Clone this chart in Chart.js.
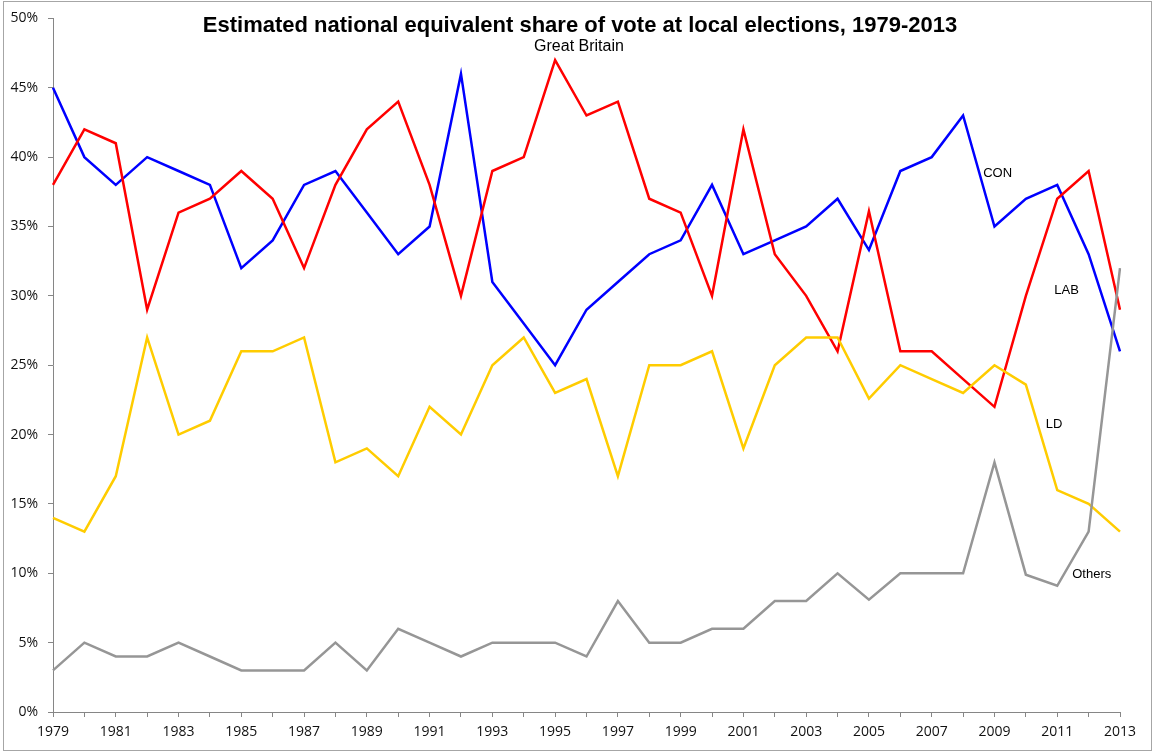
<!DOCTYPE html>
<html>
<head>
<meta charset="utf-8">
<title>Local elections vote share</title>
<script src="https://cdn.jsdelivr.net/npm/chart.js@4.4.1/dist/chart.umd.min.js"></script>
<style>
  html, body { margin:0; padding:0; background:#fff; }
  #wrap { width:1154px; height:754px; position:relative; }
</style>
</head>
<body>
<div id="wrap"><canvas id="voteChart" width="1154" height="754"></canvas></div>
<script>
// Years 1979-2013
const years = ['1979','1980','1981','1982','1983','1984','1985','1986','1987','1988',
  '1989','1990','1991','1992','1993','1994','1995','1996','1997','1998','1999','2000',
  '2001','2002','2003','2004','2005','2006','2007','2008','2009','2010','2011','2012','2013'];

// projected national share (%)
const con = [45,40,38,40,39,38,32,34,38,39,36,33,35,46,31,28,25,29,31,33,34,38,
  33,34,35,37,33.3,39,40,43,35,37,38,33,26];
const lab = [38,42,41,29,36,37,39,37,32,38,42,44,38,30,39,40,47,43,44,37,36,30,
  42,33,30,26,36.1,26,26,24,22,30,37,39,29];
const ld = [14,13,17,27,20,21,26,26,27,18,19,17,22,20,25,27,23,24,17,25,25,26,
  19,25,27,27,22.6,25,24,23,25,23.6,16,15,13];
const others = [3,5,4,4,5,4,3,3,3,5,3,6,5,4,5,5,5,4,8,5,5,6,
  6,8,8,10,8.1,10,10,10,18,9.9,9.1,13,32];

// series names written beside the lines: [text, year index, value]
const seriesTags = [
  ['CON', 30.1, 38.8],
  ['LAB', 32.3, 30.4],
  ['LD', 31.9, 20.7],
  ['Others', 33.1, 9.9]
];

const titleText = 'Estimated national equivalent share of vote at local elections, 1979-2013';
const subtitleText = 'Great Britain';

const tickFont = { family:'"Open Sans", sans-serif', size:14 };

const decorations = {
  id:'decorations',
  afterDatasetsDraw(chart){
    const ctx = chart.ctx;
    const xs = chart.scales.x, ys = chart.scales.y;
    ctx.save();
    // tags
    ctx.fillStyle = '#000';
    ctx.font = '13px "Liberation Sans", Arial, sans-serif';
    ctx.textAlign = 'center';
    ctx.textBaseline = 'middle';
    seriesTags.forEach(t => {
      ctx.fillText(t[0], xs.getPixelForValue(t[1]), ys.getPixelForValue(t[2]));
    });
    // titles
    ctx.font = 'bold 22px "Liberation Sans", Arial, sans-serif';
    ctx.fillText(titleText, 580, 26);
    ctx.font = '16px "Liberation Sans", Arial, sans-serif';
    ctx.fillText(subtitleText, 579, 47);
    ctx.restore();
  },
  afterDraw(chart){
    const ctx = chart.ctx;
    ctx.save();
    ctx.strokeStyle = '#a6a6a6';
    ctx.lineWidth = 1;
    ctx.strokeRect(3.5, 1.5, chart.width - 6, chart.height - 5);
    ctx.restore();
  }
};

function line(label, data, color, order){
  return { label, data, borderColor:color, backgroundColor:color, borderWidth:2.5,
    pointRadius:0, tension:0, fill:false, order };
}

new Chart(document.getElementById('voteChart'), {
  type:'line',
  data:{
    labels: years,
    datasets:[
      line('CON', con, '#0000ff', 4),
      line('LAB', lab, '#ff0000', 3),
      line('LD', ld, '#ffcc00', 2),
      line('Others', others, '#969696', 1)
    ]
  },
  options:{
    responsive:false,
    animation:false,
    layout:{ padding:{ left:0, top:18, right:34, bottom:0 } },
    plugins:{ legend:{ display:false }, tooltip:{ enabled:false }, title:{ display:false } },
    scales:{
      x:{
        offset:false,
        grid:{ drawOnChartArea:false, color:'#868686', tickLength:5, tickColor:'#868686' },
        border:{ color:'#868686' },
        ticks:{ autoSkip:false, maxRotation:0, padding:7, color:'#111', font:tickFont,
          callback:(v, i) => i % 2 === 0 ? years[i] : '' },
        afterFit(scale){ scale.height = 42; }
      },
      y:{
        min:0, max:50,
        grid:{ drawOnChartArea:false, color:'#868686', tickLength:5, tickColor:'#868686' },
        border:{ color:'#868686' },
        ticks:{ stepSize:5, padding:10, color:'#111', font:tickFont, callback:v => v + '%' },
        afterFit(scale){ scale.width = 53; }
      }
    }
  },
  plugins:[decorations]
});
</script>
</body>
</html>
